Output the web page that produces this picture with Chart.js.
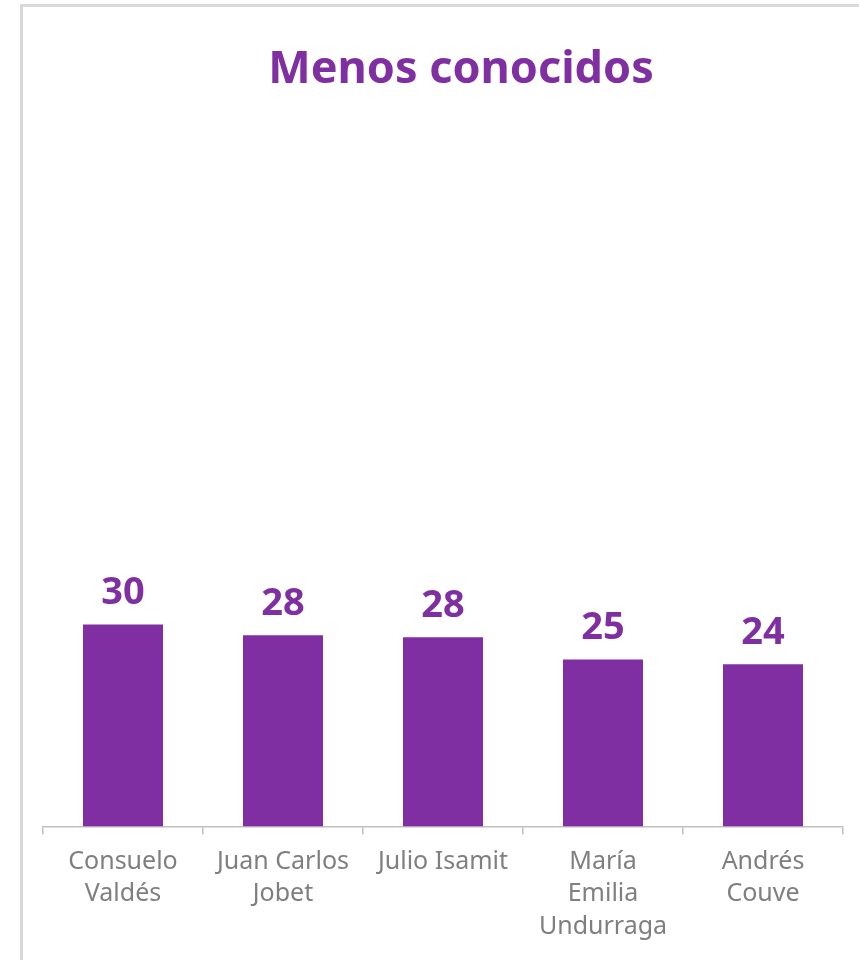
<!DOCTYPE html>
<html>
<head>
<meta charset="utf-8">
<script src="https://cdn.jsdelivr.net/npm/chart.js@4.4.1/dist/chart.umd.min.js"></script>
<style>
  html, body { margin: 0; padding: 0; background: #fff; overflow: hidden; }
  #frame {
    position: absolute; left: 20px; top: 4px; width: 900px; height: 1000px;
    border: 3px solid #d9d9d9; box-sizing: border-box;
  }
  #wrap { position: absolute; left: 0; top: 0; width: 859px; height: 960px; }
</style>
</head>
<body>
<div id="frame"></div>
<div id="wrap"><canvas id="barChart" width="859" height="960"></canvas></div>
<script>
// names and values
const names = [
  ['Consuelo', 'Valdés'],
  ['Juan Carlos', 'Jobet'],
  ['Julio Isamit'],
  ['María', 'Emilia', 'Undurraga'],
  ['Andrés', 'Couve']
];
const values = [30.0, 28.4, 28.1, 24.8, 24.1];
const chartTitle = 'Menos conocidos';

const purple = '#7f2fa1';
const FONT = "'Noto Sans', 'Open Sans', sans-serif";

// title and value labels drawn on top
const labelsPlugin = {
  id: 'labelsPlugin',
  afterDatasetsDraw(chart) {
    const ctx = chart.ctx;
    ctx.save();
    ctx.fillStyle = purple;
    ctx.textAlign = 'center';
    ctx.textBaseline = 'alphabetic';
    ctx.font = 'bold 45px ' + FONT;
    ctx.fillText(chartTitle, 461, 83);

    ctx.font = 'bold 38px ' + FONT;
    chart.getDatasetMeta(0).data.forEach((bar, i) => {
      ctx.fillText(Math.round(values[i]), bar.x, bar.y - 20);
    });
    ctx.restore();
  }
};

const ctx = document.getElementById('barChart').getContext('2d');
new Chart(ctx, {
  type: 'bar',
  data: {
    labels: names,
    datasets: [{
      data: values,
      backgroundColor: purple,
      barPercentage: 0.5,
      categoryPercentage: 1.0
    }]
  },
  options: {
    responsive: false,
    animation: false,
    layout: { padding: { top: 153, left: 43, right: 16, bottom: 6 } },
    plugins: {
      legend: { display: false },
      tooltip: { enabled: false },
      title: { display: false }
    },
    scales: {
      x: {
        grid: {
          offset: true,
          drawOnChartArea: false,
          tickLength: 8,
          color: '#bfbfbf',
          lineWidth: 1.5
        },
        border: { display: true, color: '#bfbfbf', width: 1.5 },
        ticks: {
          color: '#7f7f7f',
          font: { family: FONT, size: 25, lineHeight: 1.3 },
          padding: 11,
          maxRotation: 0,
          autoSkip: false
        }
      },
      y: {
        display: false,
        min: 0,
        max: 100
      }
    }
  },
  plugins: [labelsPlugin]
});
</script>
</body>
</html>
